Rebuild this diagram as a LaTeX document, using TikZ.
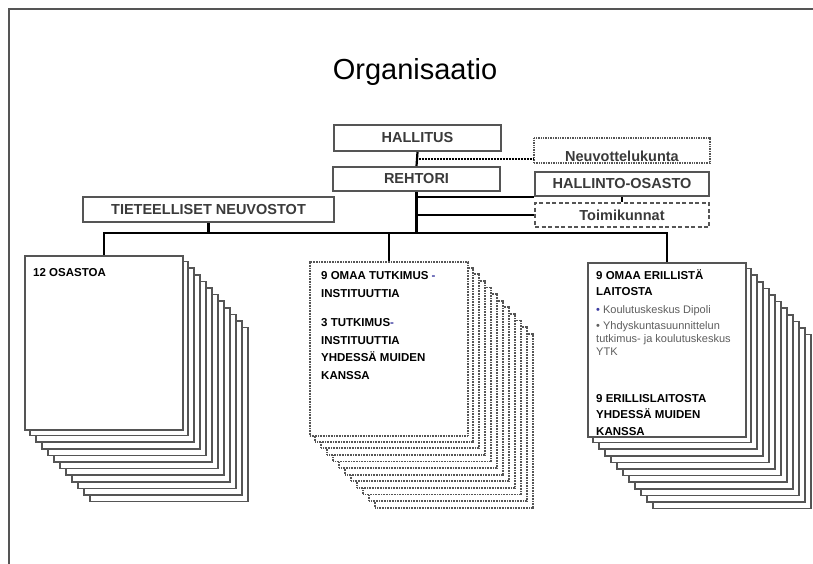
\documentclass[tikz,border=0pt]{standalone}
\usepackage{fontspec}
\setmainfont{Liberation Sans}
\usetikzlibrary{calc,positioning}
\definecolor{boxgray}{HTML}{555555}
\definecolor{textgray}{HTML}{3A3A3A}
\definecolor{notegray}{HTML}{5E5E5E}
\definecolor{dashblue}{HTML}{3A3AA0}

\begin{document}
\begin{tikzpicture}[x=1pt,y=-1pt,
  headbox/.style={draw=boxgray,line width=2pt,fill=white,inner sep=0pt,text=textgray,
    font=\bfseries\fontsize{14.5}{14.5}\selectfont},
  dashbox/.style={headbox,dash pattern=on 4pt off 2.5pt},
  dotbox/.style={headbox,dash pattern=on 1pt off 0.7pt},
  stackline/.style={draw=boxgray,line width=1.6pt,fill=white},
  stackdots/.style={stackline,line width=1.8pt,dash pattern=on 1pt off 0.6pt},
  conn/.style={black,line width=2.2pt},
  dotconn/.style={conn,dash pattern=on 1pt off 0.5pt},
  stacktext/.style={anchor=north west,inner sep=0pt,align=left,
    font=\bfseries\fontsize{11.5}{17.5}\selectfont},
  notetext/.style={anchor=north west,inner sep=0pt,align=left,text=notegray,
    font=\fontsize{11}{13}\selectfont}
]
\useasboundingbox (0,0) rectangle (813,564);

% frame
\draw[boxgray,line width=1.4pt] (9,564) -- (9,9) -- (813,9);

\node[font=\fontsize{29}{29}\selectfont] (otsikko) at (415,72) {Organisaatio};

% top of the tree
\node[headbox,minimum width=167,minimum height=26] (hallitus) at (417.5,138) {HALLITUS};
\node[dotbox,minimum width=176,minimum height=25,text height=21pt,text depth=0pt] (neuvottelu) at (622,150.5) {Neuvottelukunta};
\node[headbox,minimum width=167,minimum height=24] (rehtori) at (416.5,179) {REHTORI};
\node[headbox,minimum width=174,minimum height=24] (hallinto) at (622,184) {HALLINTO-OSASTO};
\node[dashbox,minimum width=174,minimum height=24] (toimikunnat) at (622,215) {Toimikunnat};
\node[headbox,minimum width=251,minimum height=25] (tieteelliset) at (208.5,209.5) {TIETEELLISET NEUVOSTOT};

% stacks of sheets
\foreach \x/\y/\s in {24/255/stackline,309/261/stackdots,587/262/stackline}{
  \foreach \i in {11,...,1}
    \draw[\s] (\x+6*\i,\y+6.6*\i) rectangle +(158,174);
}
\node[stackline,anchor=north west,minimum width=158,minimum height=174,inner sep=0pt] (osastot) at (24,255) {};
\node[stackdots,anchor=north west,minimum width=158,minimum height=174,inner sep=0pt] (instituutit) at (309,261) {};
\node[stackline,anchor=north west,minimum width=158,minimum height=174,inner sep=0pt] (erillis) at (587,262) {};

\node[stacktext] at ([shift={(9,12.8)}]osastot.north west) {12 OSASTOA};
\node[stacktext] at ([shift={(12,10.5)}]instituutit.north west)
  {9 OMAA TUTKIMUS {\color{dashblue}-}\\INSTITUUTTIA\\[12pt]3 TUTKIMUS{\color{dashblue}-}\\INSTITUUTTIA\\YHDESSÄ MUIDEN\\KANSSA};
\node[stacktext,font=\bfseries\fontsize{11.5}{16}\selectfont] at ([shift={(9,7)}]erillis.north west)
  {9 OMAA ERILLISTÄ\\LAITOSTA};
\node[notetext] at ([shift={(9,43)}]erillis.north west)
  {{\color{dashblue}•} Koulutuskeskus Dipoli\\[3pt]• Yhdyskuntasuunnittelun\\tutkimus- ja koulutuskeskus\\YTK};
\node[stacktext,font=\bfseries\fontsize{11.5}{16.5}\selectfont] at ([shift={(9,132)}]erillis.north west)
  {9 ERILLISLAITOSTA\\YHDESSÄ MUIDEN\\KANSSA};

% connectors
\coordinate (valiotto) at ($(hallitus.south)!0.5!(rehtori.north)$);
\coordinate (vayla) at (0,233);
\draw[conn] (hallitus.south) -- (rehtori.north);
\draw[dotconn] (valiotto) -- (valiotto -| neuvottelu.west);
\draw[conn] (rehtori.south) -- (rehtori.south |- vayla);
\draw[conn] (rehtori.south |- hallinto.south west) -- (hallinto.south west);
\draw[conn] (rehtori.south |- toimikunnat.west) -- (toimikunnat.west);
\draw[conn] (hallinto.south) -- (toimikunnat.north);
\draw[conn] (tieteelliset.south) -- (tieteelliset.south |- vayla);
\draw[conn] (osastot.north) |- (vayla -| erillis.north) -- (erillis.north);
\draw[conn] (instituutit.north) -- (instituutit.north |- vayla);
\end{tikzpicture}
\end{document}
